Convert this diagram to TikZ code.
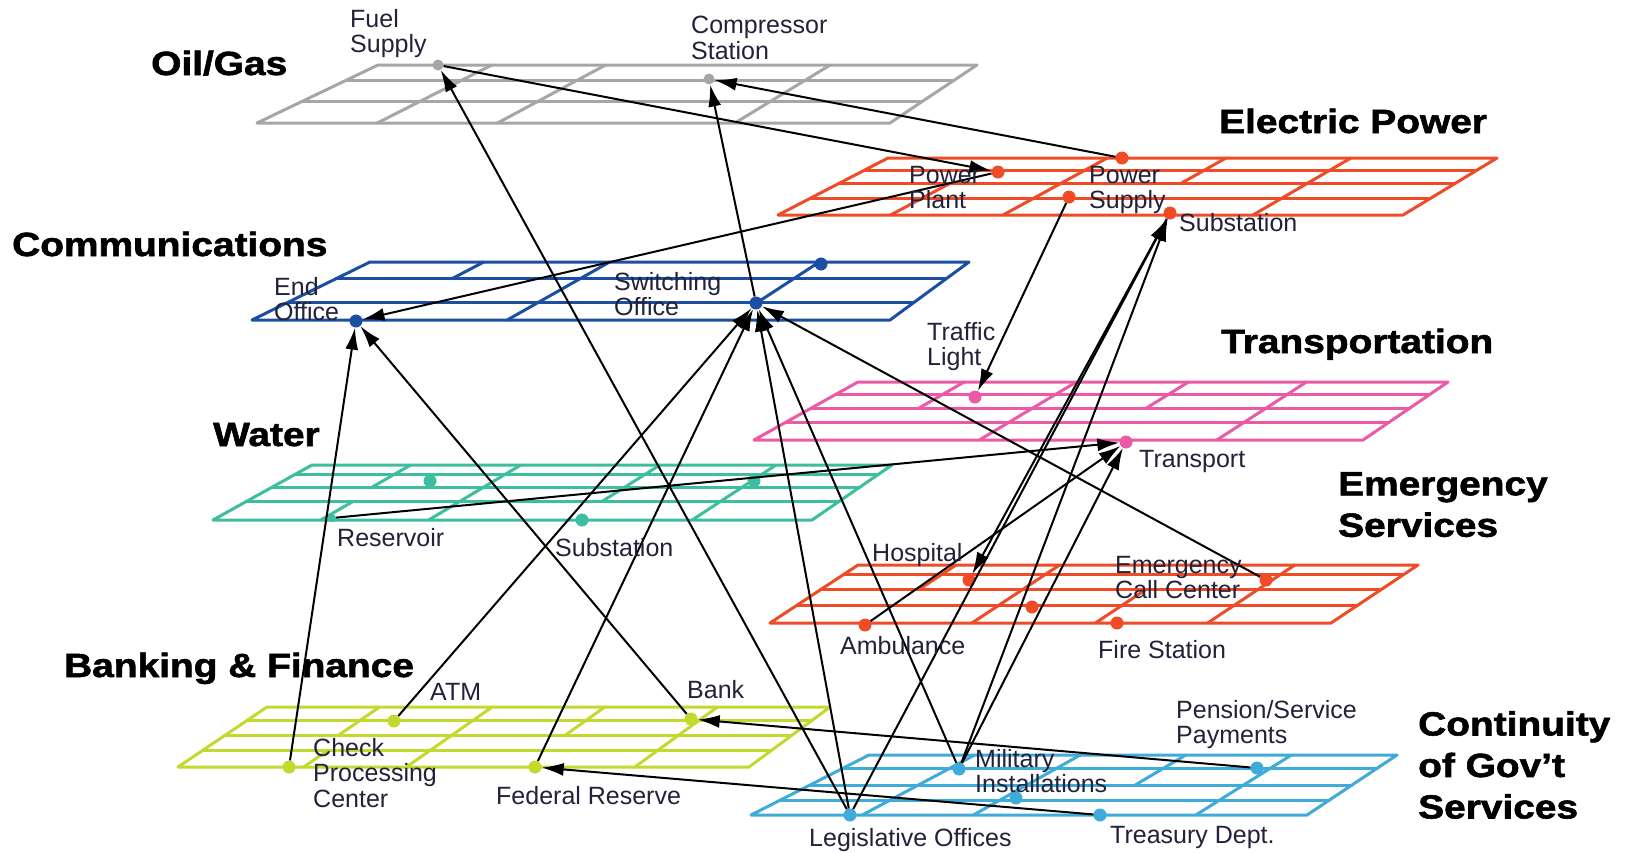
\documentclass[tikz,border=0pt]{standalone}
\usepackage{fontspec}
\setmainfont{Liberation Sans}
\newfontfamily\ttlfont[BoldFeatures={FakeBold=1.6}]{Liberation Sans}
\usetikzlibrary{arrows.meta}
\definecolor{oilc}{HTML}{A6A6A6}
\definecolor{elecc}{HTML}{EF4B27}
\definecolor{commc}{HTML}{1C4FA3}
\definecolor{transc}{HTML}{EC5AA5}
\definecolor{waterc}{HTML}{3DBE9E}
\definecolor{bankc}{HTML}{C4D92E}
\definecolor{govc}{HTML}{3FABD9}
\definecolor{labc}{HTML}{22223A}
\newcommand\drawplane[9]{%
 \begin{scope}[draw=#1, line width=3pt, line join=round, line cap=round]
  \draw (#2,#6) -- (#3,#6) -- (#5,#7) -- (#4,#7) -- cycle;
  \foreach \ff in {#8}{%
    \pgfmathsetmacro\xa{#2+\ff*(#4-#2)}%
    \pgfmathsetmacro\xb{#3+\ff*(#5-#3)}%
    \pgfmathsetmacro\yy{#6+\ff*(#7-#6)}%
    \draw (\xa,\yy) -- (\xb,\yy);}
  \foreach \pu/\pa/\pb in {#9}{%
    \pgfmathsetmacro\xa{(1-\pa)*(#2+\pu*(#3-#2))+\pa*(#4+\pu*(#5-#4))}%
    \pgfmathsetmacro\ya{#6+\pa*(#7-#6)}%
    \pgfmathsetmacro\xb{(1-\pb)*(#2+\pu*(#3-#2))+\pb*(#4+\pu*(#5-#4))}%
    \pgfmathsetmacro\yb{#6+\pb*(#7-#6)}%
    \draw (\xa,\ya) -- (\xb,\yb);}
 \end{scope}}
\newcommand\ttlx[1]{\scalebox{1.16}[1]{#1}}
\begin{document}
\begin{tikzpicture}[x=1pt,y=-1pt,
  dot/.style={circle, fill=#1, inner sep=0pt, minimum size=13pt},
  arr/.style={-{Latex[length=22pt,width=13pt]}, line width=2pt, black},
  lab/.style={inner sep=0pt, text=labc, align=left, font=\fontsize{25}{25.5}\selectfont},
  ttl/.style={inner sep=0pt, text=black, align=left, font=\fontsize{33.5}{41.5}\selectfont\ttlfont\bfseries}]
\fill[white] (0,0) rectangle (1627,852);
\useasboundingbox (0,0) rectangle (1627,852);
% planes
\drawplane{oilc}{378}{977}{257}{890}{65}{123}{0.26,0.63}{0.19/0/1, 0.38/0/1, 0.755/0/1}
\drawplane{elecc}{888}{1497}{778}{1403}{158}{215}{0.22,0.45,0.71}{0.18/0.45/1, 0.36/0/1, 0.555/0/0.45, 0.76/0/1}
\drawplane{commc}{370}{969}{252}{890}{262}{320}{0.29,0.69}{0.19/0/0.29, 0.4/0/1, 0.75/0/0.69}
\drawplane{transc}{858}{1448}{754}{1363}{382}{440}{0.22,0.45,0.69}{0.18/0/0.45, 0.37/0/1, 0.56/0/0.45, 0.76/0/1}
\drawplane{waterc}{312}{892}{213}{812}{465}{520}{0.18,0.4,0.67}{0.17/0/0.4, 0.36/0/1, 0.6/0/0.67, 0.8/0/1, 0.18/0.67/1}
\drawplane{elecc}{858}{1418}{770}{1331}{565}{623}{0.17,0.43,0.69}{0.175/0/0.43, 0.36/0/1, 0.58/0.43/1, 0.78/0/1}
\drawplane{bankc}{267}{830}{178}{749}{707}{767}{0.22,0.47,0.72}{0.2/0/0.47, 0.4/0/1, 0.6/0/0.47, 0.8/0/1, 0.22/0.72/1}
\drawplane{govc}{869}{1397}{751}{1307}{755}{815}{0.22,0.5,0.75}{0.2/0/1, 0.4/0/1, 0.6/0/0.5, 0.8/0/1}
% dots
\node[dot=oilc, minimum size=11pt] (FS) at (438,65) {};
\node[dot=oilc, minimum size=11pt] (CS) at (709,79) {};
\node[dot=elecc] (PP) at (998,172) {};
\node[dot=elecc] (PS) at (1122,158) {};
\node[dot=elecc] (PS2) at (1069,197) {};
\node[dot=elecc] (SUB) at (1170,213) {};
\node[dot=commc] (EO) at (356,321) {};
\node[dot=commc] (SW) at (756,303) {};
\node[dot=commc] (CD) at (821,264) {};
\node[dot=transc] (TLT) at (975,397) {};
\node[dot=transc] (TRN) at (1126,442) {};
\node[dot=waterc] (W1) at (430,481) {};
\node[dot=waterc] (W2) at (754,481) {};
\node[dot=waterc, minimum size=8pt] (RES) at (332,518) {};
\node[dot=waterc] (WS) at (582,520) {};
\node[dot=elecc] (HO) at (969,580) {};
\node[dot=elecc] (ECC) at (1266,580) {};
\node[dot=elecc] (EM) at (1032,607) {};
\node[dot=elecc] (AMB) at (865,625) {};
\node[dot=elecc] (FST) at (1117,623) {};
\node[dot=bankc] (ATM) at (394,721) {};
\node[dot=bankc] (BANK) at (691,719) {};
\node[dot=bankc] (CPC) at (289,767) {};
\node[dot=bankc] (FR) at (535,767) {};
\node[dot=govc] (MIL) at (959,769) {};
\node[dot=govc] (PEN) at (1257,768) {};
\node[dot=govc] (LEG) at (850,815) {};
\node[dot=govc] (TRE) at (1100,815) {};
\node[dot=govc] (GD) at (1016,798) {};
% connectors
\draw[arr] (FS) -- (PP);
\draw[arr] (PS) -- (CS);
\draw[arr] (PP) -- (EO);
\draw[arr] (PS2) -- (TLT);
\draw[arr] (LEG) -- (FS);
\draw[arr] (SW) -- (CS);
\draw[arr] (RES) -- (TRN);
\draw[arr] (ECC) -- (SW);
\draw[arr] (CPC) -- (EO);
\draw[arr] (BANK) -- (EO);
\draw[arr] (ATM) -- (SW);
\draw[arr] (FR) -- (SW);
\draw[arr] (LEG) -- (SW);
\draw[arr] (MIL) -- (SW);
\draw[arr] (PEN) -- (BANK);
\draw[arr] (TRE) -- (FR);
\draw[arr] (AMB) -- (TRN);
\draw[arr] (MIL) -- (TRN);
\draw[arr] (LEG) -- (SUB);
\draw[arr] (MIL) -- (SUB);
\draw[arr] (SUB) -- (HO);
% labels
\node[lab, anchor=north west] (lFS) at (350,9) {Fuel\\Supply};
\node[lab, anchor=north west] (lCS) at (691,16) {Compressor\\Station};
\node[lab, anchor=north west] (lPP) at (909,166) {Power\\Plant};
\node[lab, anchor=north west] (lPS) at (1089,166) {Power\\Supply};
\node[lab, anchor=north west] (lSUB) at (1179,213) {Substation};
\node[lab, anchor=north west] (lEO) at (274,277) {End\\Office};
\node[lab, anchor=north west] (lSW) at (614,272) {Switching\\Office};
\node[lab, anchor=north west] (lTLT) at (927,322) {Traffic\\Light};
\node[lab, anchor=north west] (lTRN) at (1139,450) {Transport};
\node[lab, anchor=north west] (lRES) at (337,528) {Reservoir};
\node[lab, anchor=north west] (lWS) at (555,538) {Substation};
\node[lab, anchor=north west] (lHO) at (872,543) {Hospital};
\node[lab, anchor=north west] (lECC) at (1115,556) {Emergency\\Call Center};
\node[lab, anchor=north west] (lAMB) at (840,636) {Ambulance};
\node[lab, anchor=north west] (lFST) at (1098,640) {Fire Station};
\node[lab, anchor=north west] (lATM) at (430,683) {ATM};
\node[lab, anchor=north west] (lBANK) at (687,680) {Bank};
\node[lab, anchor=north west] (lCPC) at (313,738) {Check\\Processing\\Center};
\node[lab, anchor=north west] (lFR) at (496,786) {Federal Reserve};
\node[lab, anchor=north west] (lPEN) at (1176,700) {Pension/Service\\Payments};
\node[lab, anchor=north west] (lMIL) at (975,749) {Military\\Installations};
\node[lab, anchor=north west] (lLEG) at (809,828) {Legislative Offices};
\node[lab, anchor=north west] (lTRE) at (1110,826) {Treasury Dept.};
% titles
\node[ttl, anchor=base west] (tOil) at (151,75) {\ttlx{Oil/Gas}};
\node[ttl, anchor=base west] (tElec) at (1219,133) {\ttlx{Electric Power}};
\node[ttl, anchor=base west] (tComm) at (12,256) {\ttlx{Communications}};
\node[ttl, anchor=base west] (tTrans) at (1221,353) {\ttlx{Transportation}};
\node[ttl, anchor=base west] (tWater) at (213,446) {\ttlx{Water}};
\node[ttl, anchor=north west] (tEmerg) at (1338,472) {\ttlx{Emergency}\\\ttlx{Services}};
\node[ttl, anchor=base west] (tBank) at (64,677) {\ttlx{Banking \& Finance}};
\node[ttl, anchor=north west] (tGov) at (1418,711) {\ttlx{Continuity}\\\ttlx{of Gov’t}\\\ttlx{Services}};
\end{tikzpicture}
\end{document}
